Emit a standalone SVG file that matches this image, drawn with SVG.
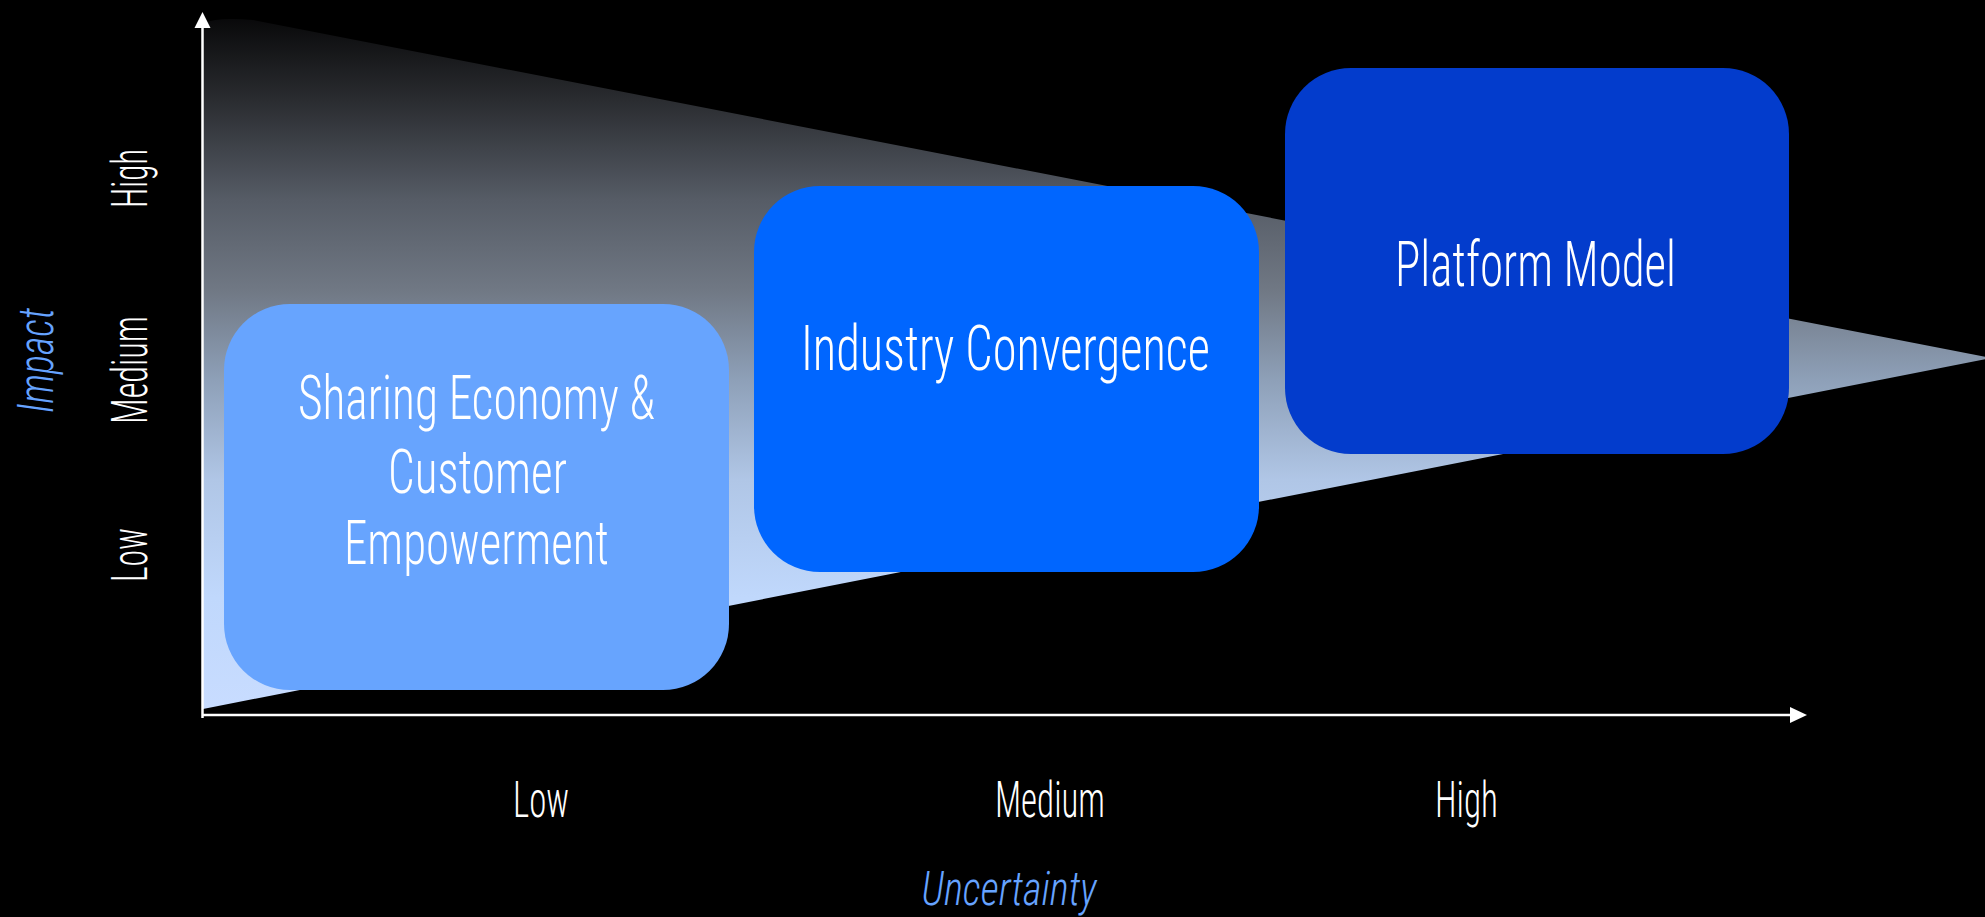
<svg xmlns="http://www.w3.org/2000/svg" width="1985" height="917" viewBox="0 0 1985 917">
  <defs>
    <linearGradient id="wedgeFill" gradientUnits="userSpaceOnUse" x1="0" y1="14" x2="0" y2="709">
      <stop offset="0" stop-color="#070708"/>
      <stop offset="0.124" stop-color="#2a2c30"/>
      <stop offset="0.268" stop-color="#565c66"/>
      <stop offset="0.397" stop-color="#707884"/>
      <stop offset="0.527" stop-color="#8ea0b8"/>
      <stop offset="0.67" stop-color="#b0c6e6"/>
      <stop offset="0.84" stop-color="#c0d8fc"/>
      <stop offset="1" stop-color="#c8dcff"/>
    </linearGradient>
    <style>
      .lbl { font-family: "Roboto Condensed", "Liberation Sans Narrow", "Liberation Sans", Arial, sans-serif; font-weight: 300; fill: #ffffff; text-anchor: middle; }
      .axis-title { font-family: "Roboto Condensed", "Liberation Sans Narrow", "Liberation Sans", Arial, sans-serif; font-weight: 300; font-style: italic; fill: #66a3ff; text-anchor: middle; }
      .tick { font-size: 50px; }
      .axis-line { stroke: #ffffff; stroke-width: 2.5; fill: none; }
      .arrow { fill: #ffffff; }
    </style>
  </defs>

  <rect x="0" y="0" width="1985" height="917" fill="#000000"/>

  <!-- widening wedge behind the boxes -->
  <path id="wedge" d="M203,709 L203,24 Q214,17 253,20 L1992,358 Z" fill="url(#wedgeFill)"/>

  <!-- axes -->
  <g id="axes">
    <line class="axis-line" x1="202.5" y1="718" x2="202.5" y2="26"/>
    <polygon class="arrow" points="202.5,12 194.5,28 210.5,28"/>
    <line class="axis-line" x1="202" y1="715" x2="1792" y2="715"/>
    <polygon class="arrow" points="1807,715 1790,707 1790,723"/>
  </g>

  <!-- vertical axis labels -->
  <g id="y-labels">
    <text class="lbl tick" transform="translate(147,178.5) rotate(-90)" textLength="59" lengthAdjust="spacingAndGlyphs">High</text>
    <text class="lbl tick" transform="translate(147,370) rotate(-90)" textLength="108" lengthAdjust="spacingAndGlyphs">Medium</text>
    <text class="lbl tick" transform="translate(147,555) rotate(-90)" textLength="54" lengthAdjust="spacingAndGlyphs">Low</text>
    <text class="axis-title" font-size="50" transform="translate(53,360.5) rotate(-90)" textLength="105" lengthAdjust="spacingAndGlyphs">Impact</text>
  </g>

  <!-- horizontal axis labels -->
  <g id="x-labels">
    <text class="lbl tick" x="541" y="817" textLength="56" lengthAdjust="spacingAndGlyphs">Low</text>
    <text class="lbl tick" x="1050" y="817" textLength="110" lengthAdjust="spacingAndGlyphs">Medium</text>
    <text class="lbl tick" x="1466.5" y="817" textLength="63" lengthAdjust="spacingAndGlyphs">High</text>
    <text class="axis-title" font-size="47" x="1009" y="905" textLength="175" lengthAdjust="spacingAndGlyphs">Uncertainty</text>
  </g>

  <!-- trend boxes -->
  <g id="sharing-economy">
    <rect x="224" y="304" width="505" height="386" rx="66" ry="66" fill="#67a4fe"/>
    <text class="lbl" font-size="61" x="476.5" y="419" textLength="357" lengthAdjust="spacingAndGlyphs">Sharing Economy &amp;</text>
    <text class="lbl" font-size="61" x="477.5" y="493" textLength="179" lengthAdjust="spacingAndGlyphs">Customer</text>
    <text class="lbl" font-size="61" x="476.5" y="564" textLength="265" lengthAdjust="spacingAndGlyphs">Empowerment</text>
  </g>

  <g id="industry-convergence">
    <rect x="754" y="186" width="505" height="386" rx="66" ry="66" fill="#0066ff"/>
    <text class="lbl" font-size="63" x="1005.5" y="370" textLength="409" lengthAdjust="spacingAndGlyphs">Industry Convergence</text>
  </g>

  <g id="platform-model">
    <rect x="1285" y="68" width="504" height="386" rx="66" ry="66" fill="#033ccc"/>
    <text class="lbl" font-size="63" x="1535.5" y="286" textLength="281" lengthAdjust="spacingAndGlyphs">Platform Model</text>
  </g>
</svg>
